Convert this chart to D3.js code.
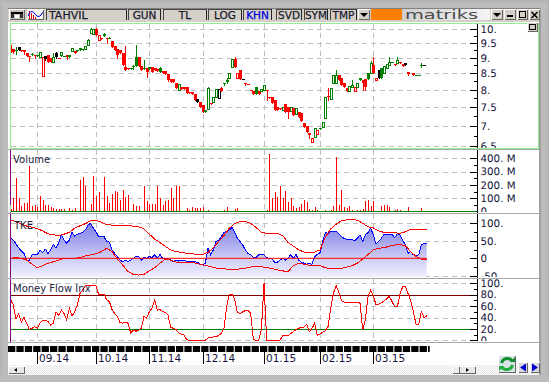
<!DOCTYPE html>
<html><head><meta charset="utf-8">
<script src="https://cdn.jsdelivr.net/npm/d3@7"></script>
<style>html,body{margin:0;padding:0;background:#fff;overflow:hidden}svg{display:block}text{font-family:"DejaVu Sans",sans-serif}</style>
</head><body><svg id="c" width="549" height="382"></svg>
<script>
const opens=[9.29,9.29,9.27,9.38,9.27,9.27,9.15,9.07,9.13,9.10,9.10,9.04,8.43,9.06,9.08,9.01,8.87,9.17,9.00,9.10,9.07,9.08,9.10,9.23,9.23,9.25,9.32,9.31,9.31,9.42,9.85,9.83,10.0,9.63,9.67,9.83,9.67,9.70,9.57,9.40,9.29,9.27,9.15,8.71,8.66,8.66,8.72,9.04,9.04,8.72,8.66,8.66,8.69,8.71,8.66,8.64,8.66,8.58,8.58,8.48,8.32,8.32,8.19,7.99,8.07,8.07,8.07,7.92,7.94,7.87,7.73,7.66,7.56,7.43,7.46,7.61,7.66,7.80,7.77,8.04,8.19,8.29,8.35,8.69,8.96,8.35,8.61,8.32,8.19,8.18,8.00,7.95,8.07,7.95,7.95,7.99,7.99,7.80,7.78,7.71,7.50,7.47,7.43,7.59,7.52,7.41,7.47,7.31,7.38,7.35,7.07,6.99,6.83,6.59,6.73,6.79,6.94,6.98,7.20,7.83,7.73,8.19,8.19,8.45,8.35,8.19,8.04,7.95,8.07,7.97,8.07,8.35,8.29,8.31,8.50,8.50,8.77,8.29,8.61,8.66,8.50,8.68,8.76,8.86,8.79,8.82,8.87,8.79,8.82,8.55,null,8.50,8.45,8.45,8.77,8.77,null];
const closes=[9.27,9.20,9.23,9.27,9.24,9.18,9.07,9.06,9.09,9.06,9.06,9.19,9.04,8.95,8.85,8.86,9.04,9.04,8.98,9.21,9.06,9.04,9.04,9.32,9.17,9.24,9.25,9.27,9.40,9.60,10.0,10.0,9.80,9.80,9.66,9.76,9.66,9.69,9.38,9.27,9.10,9.15,8.76,8.61,8.63,8.65,8.70,8.74,8.72,8.60,8.65,8.55,8.65,8.55,8.60,8.58,8.55,8.50,8.48,8.29,8.24,8.22,8.06,8.17,8.03,8.01,7.90,7.91,7.87,7.69,7.66,7.52,7.36,7.38,8.04,7.60,7.78,8.02,8.02,7.97,8.18,8.24,8.50,8.96,8.70,8.50,8.32,8.31,8.18,8.17,7.99,7.87,7.89,7.87,8.02,8.13,7.98,7.75,7.61,7.43,7.43,7.44,7.52,7.38,7.38,7.52,7.29,7.47,7.24,7.14,6.96,6.85,6.76,6.69,6.94,6.90,6.93,7.09,7.80,7.80,8.04,8.45,8.45,8.29,8.14,8.09,7.97,8.11,8.14,8.07,8.21,8.29,8.21,8.07,8.31,8.82,8.50,8.35,8.35,8.35,8.74,8.79,8.87,8.85,8.76,8.93,8.84,8.74,8.76,8.49,null,8.45,8.44,8.44,8.72,8.76,null];
const highs=[9.44,9.30,9.36,9.38,9.27,9.27,9.15,9.07,9.15,9.10,9.10,9.19,9.04,9.06,9.08,9.01,9.17,9.20,9.00,9.21,9.07,9.08,9.10,9.32,9.23,9.25,9.32,9.31,9.40,9.64,10.03,10.02,10.05,9.80,9.67,9.87,9.67,9.72,9.57,9.40,9.29,9.27,9.15,9.40,8.66,8.66,8.76,9.42,9.04,8.72,8.94,8.66,8.69,8.71,8.66,8.64,8.71,8.58,8.58,8.48,8.32,8.32,8.19,8.17,8.07,8.07,8.07,7.92,7.94,7.87,7.73,7.66,7.56,7.43,8.08,7.61,7.78,8.02,8.02,8.07,8.21,8.35,8.50,8.96,9.03,8.50,8.61,8.32,8.21,8.18,8.00,7.95,8.07,7.95,8.02,8.13,7.99,7.80,7.78,7.71,7.50,7.47,7.52,7.59,7.52,7.52,7.47,7.47,7.38,7.35,7.07,6.99,6.83,6.69,6.94,6.90,6.94,7.09,7.80,8.04,8.04,8.45,8.61,8.45,8.35,8.19,8.04,8.11,8.29,8.07,8.21,8.35,8.29,8.31,8.50,8.90,9.04,8.35,8.61,8.66,8.74,8.79,9.04,8.86,8.79,9.04,8.87,8.79,8.82,8.55,null,8.50,8.45,8.45,8.82,8.77,null];
const lows=[9.20,9.17,9.13,9.25,9.22,9.12,9.05,8.90,9.08,8.98,9.05,9.04,8.43,8.93,8.85,8.86,8.87,9.00,8.98,9.05,9.06,8.97,9.04,9.23,9.17,9.24,9.25,9.27,9.31,9.42,9.85,9.83,9.80,9.63,9.66,9.76,9.50,9.68,9.38,9.27,8.98,9.15,8.76,8.61,8.63,8.65,8.64,8.72,8.72,8.60,8.65,8.40,8.65,8.55,8.60,8.58,8.55,8.50,8.48,8.27,8.24,8.22,8.06,7.99,8.03,8.01,7.90,7.91,7.87,7.69,7.66,7.52,7.36,7.38,7.46,7.60,7.66,7.80,7.77,7.95,8.14,8.19,8.35,8.69,8.70,8.35,8.32,8.31,8.14,8.17,7.99,7.87,7.89,7.87,7.95,7.99,7.71,7.75,7.61,7.43,7.43,7.44,7.43,7.38,7.20,7.41,7.29,7.31,7.24,7.14,6.96,6.85,6.69,6.59,6.73,6.79,6.93,6.98,7.20,7.71,7.73,8.19,8.19,8.29,8.14,8.09,7.97,7.95,8.07,7.97,8.07,8.29,7.99,7.99,8.31,8.50,8.50,8.29,8.35,8.35,8.50,8.68,8.76,8.85,8.76,8.82,8.84,8.74,8.76,8.45,null,8.45,8.44,8.44,8.69,8.76,null];
const directions=[-1,-1,1,0,-1,-1,-1,-1,1,-1,1,1,-1,0,-1,-1,1,0,-1,1,1,-1,1,1,-1,1,1,1,1,1,1,1,-1,-1,-1,1,-1,1,-1,-1,-1,-1,-1,-1,-1,1,1,1,-1,-1,1,-1,1,-1,-1,-1,1,-1,-1,-1,-1,-1,-1,1,-1,-1,-1,-1,-1,-1,0,-1,-1,1,1,-1,1,1,0,-1,1,1,1,1,-1,-1,-1,0,-1,-1,-1,-1,1,-1,1,1,-1,-1,-1,-1,-1,-1,1,-1,-1,1,-1,1,-1,-1,-1,-1,-1,-1,1,-1,1,1,1,-1,1,1,1,-1,-1,-1,-1,1,1,-1,1,1,-1,-1,1,1,-1,-1,0,1,1,1,1,1,-1,1,-1,-1,0,-1,0,-1,1,1,1,0,0];
const volumes=[20,100,255,100,45,62,62,345,42,50,32,117,87,50,50,32,25,17,17,17,20,5,25,10,30,3,237,262,192,5,57,267,120,150,3,260,117,62,132,155,150,87,162,112,125,5,57,42,42,3,195,80,57,57,57,192,105,50,80,87,180,100,192,192,3,7,25,10,32,25,25,25,32,3,10,0,0,0,7,0,12,35,0,0,17,25,0,0,0,0,0,0,0,0,0,0,12,432,100,150,112,195,100,155,70,105,45,30,37,57,87,75,17,12,35,10,3,0,10,0,12,42,412,50,162,32,30,45,12,0,15,12,17,80,87,45,80,3,3,42,50,50,35,3,10,20,10,0,0,35,0,0,0,0,25,0,0];
const tke=[57,52,41,30,21,14,-5,-5,10,12,10,24,17,26,14,24,40,29,43,67,52,43,52,74,64,69,71,74,81,95,100,86,76,62,62,62,48,46,24,14,5,-5,-10,-5,-10,-5,0,5,5,-5,2,0,5,2,10,0,11,0,0,-2,-5,-10,-5,-8,-7,-7,-8,-10,-10,-10,-11,-17,-19,-14,29,10,24,48,52,62,74,78,81,88,74,57,48,38,24,14,10,2,2,10,11,10,2,0,-2,-11,-11,-5,0,-5,0,11,0,11,-5,-11,-14,-17,-14,-17,5,11,16,48,74,71,76,78,78,71,62,57,54,54,54,50,57,67,48,67,74,86,67,40,48,57,69,69,69,69,59,70,67,52,38,14,19,10,8,10,38,43,43];
// Envelope bands were read at every second bar
const bandStep=2;
const tkeUpper=[110,104,98,92,89,85,78,70,67,65,69,74,86,93,99,108,109,103,96,95,95,94,93,92,90,84,69,55,45,34,24,19,17,14,13,11,11,17,30,48,65,86,99,105,106,100,88,75,71,71,71,65,45,35,24,18,17,18,24,61,84,97,107,110,111,109,100,90,87,78,74,74,73,71,76,83,83,83,81];
const tkeLower=[0,2,0,-5,-17,-27,-21,-14,-10,-5,0,0,0,2,7,10,13,19,29,19,-2,-19,-38,-46,-48,-46,-36,-27,-14,-2,-5,-11,-11,-11,-12,-15,-19,-22,-26,-29,-30,-32,-33,-30,-28,-25,-24,-24,-27,-29,-33,-36,-38,-21,-14,-17,-20,-21,-21,-27,-30,-30,-29,-25,-21,-14,-2,11,24,29,30,35,38,39,36,19,5,-2,-2];
const mfi=[71,62,37,46,32,40,30,19,21,24,21,30,35,35,33,27,30,50,44,53,47,36,56,42,50,62,82,88,96,96,96,96,96,80,80,81,71,68,54,47,42,31,30,32,30,13,18,16,18,21,42,39,50,56,71,53,54,50,49,44,23,21,19,13,11,9,1,0,0,0,0,0,0,0,4,5,6,6,9,12,21,59,81,81,71,49,47,50,52,53,47,1,0,0,18,100,0,0,0,0,0,0,8,8,8,12,15,19,21,23,23,28,15,21,30,9,11,14,17,24,56,82,96,85,70,67,67,67,67,67,67,65,18,36,77,88,78,62,63,66,69,73,77,68,59,59,82,94,94,82,70,50,28,28,50,40,43];
const monthBars=[10,32,52,72,95,116,136];
const monthLabels=["09.14","10.14","11.14","12.14","01.15","02.15","03.15"];
const priceTicks=[10,9.5,9,8.5,8,7.5,7,6.5];
const priceLabels=["10.","9.5","9.","8.5","8.","7.5","7.","6.5"];
const priceMinor=[9.75,9.25,8.75,8.25,7.75,7.25,6.75];
const volTicks=[400,300,200,100,0];
const volLabels=["400. M","300. M","200. M","100. M","0"];
const volMinor=[350,250,150,50];
const tkeTicks=[100,50,0,-50];
const tkeLabels=["100.","50.","0","-50"];
const tkeMinor=[75,25,-25];
const mfiTicks=[100,80,60,40,20,0];
const mfiLabels=["100.","80.","60.","40.","20.","0."];
const mfiMinor=[90,70,50,30,10];
const toolbarLabels=["TAHVIL","GUN","TL","LOG","KHN","SVD","SYM","TMP"];
const panelTitles=["Volume","TKE","Money Flow Inx"];

const svg=d3.select("#c");
const defs=svg.append("defs");
const g0=defs.append("linearGradient").attr("id","tg").attr("gradientUnits","userSpaceOnUse").attr("x1",0).attr("x2",0).attr("y1",223).attr("y2",278);
g0.append("stop").attr("offset",0).attr("stop-color","#7c7ce6");
g0.append("stop").attr("offset",0.6).attr("stop-color","#c8c8f6");
g0.append("stop").attr("offset",1).attr("stop-color","#f2f2fe");
const g1=defs.append("linearGradient").attr("id","lg");
g1.append("stop").attr("offset",0).attr("stop-color","#cfcfcf");
g1.append("stop").attr("offset",1).attr("stop-color","#f4f4f4");
const pat=defs.append("pattern").attr("id","dith").attr("width",2).attr("height",2).attr("patternUnits","userSpaceOnUse");
pat.append("rect").attr("width",2).attr("height",2).attr("fill","#ffffff");
pat.append("rect").attr("width",1).attr("height",1).attr("fill","#e4e4e4");
pat.append("rect").attr("x",1).attr("y",1).attr("width",1).attr("height",1).attr("fill","#e4e4e4");

const rect=(p,x,y,w,h,f,s)=>p.append("rect").attr("x",x).attr("y",y).attr("width",w).attr("height",h).attr("fill",f).attr("stroke",s||"none").attr("shape-rendering","crispEdges");
// Window frame
rect(svg,0,0,549,382,"#b4b4b4");
rect(svg,2,2,545,378,"#bcbcbc");
rect(svg,8,8,532,367,"#ffffff");
rect(svg,8,8,531,14,"#d4d0c8");

const panels=[
 {id:"p",top:24,bottom:148},
 {id:"v",top:150,bottom:212},
 {id:"t",top:214,bottom:277},
 {id:"m",top:279,bottom:341}];
panels.forEach(p=>{defs.append("clipPath").attr("id","cl"+p.id).append("rect").attr("x",10).attr("y",p.top).attr("width",529).attr("height",p.bottom-p.top);});

const x=d3.scaleLinear().domain([0,156]).range([10.67,426.7]);
const px=i=>Math.round(x(i));
const yP=d3.scaleLog().domain([10,6.5]).range([29.3,146]);
const yV=d3.scaleLinear().domain([0,400]).range([211.5,158.3]);
const yT=d3.scaleLinear().domain([0,100]).range([258.3,223.3]);
const yM=d3.scaleLinear().domain([0,100]).range([340.3,283.3]);

function panel(id){return svg.append("g").attr("clip-path","url(#cl"+id+")");}
const axisX=477, gridEnd=469;
function grid(g,y,vals,p){
 g.selectAll(null).data(vals).join("line").attr("x1",11).attr("x2",gridEnd).attr("y1",d=>Math.round(y(d))+.5).attr("y2",d=>Math.round(y(d))+.5)
  .attr("stroke","#c0c0c0").attr("stroke-dasharray","5 4");
 g.selectAll(null).data(monthBars).join("line").attr("x1",d=>px(d)+.5).attr("x2",d=>px(d)+.5).attr("y1",p.top).attr("y2",p.bottom)
  .attr("stroke","#c0c0c0").attr("stroke-dasharray","5 4");
}
function axis(g,y,ticks,labels,minor){
 const a=g.append("g").attr("transform",`translate(${axisX+.5},0)`).attr("shape-rendering","crispEdges")
  .call(d3.axisRight(y).tickValues(ticks).tickSizeInner(-8).tickSizeOuter(0).tickPadding(3).tickFormat((d,i)=>labels[i]));
 a.select(".domain").remove();
 a.selectAll("text").attr("font-size",10.3).attr("fill","#14143c").attr("font-family","DejaVu Sans").attr("text-rendering","geometricPrecision");
 a.selectAll("line").attr("stroke","#000");
 const b=g.append("g").attr("transform",`translate(${axisX+.5},0)`).attr("shape-rendering","crispEdges")
  .call(d3.axisRight(y).tickValues(minor).tickSizeInner(-4).tickSizeOuter(0).tickFormat(""));
 b.select(".domain").remove();
 b.selectAll("line").attr("stroke","#000");
}
const title=(g,t,xx,yy)=>g.append("text").attr("x",xx).attr("y",yy).attr("font-size",10).attr("fill","#23233f").text(t);
const red="#ff0000",green="#008000",blue="#0000ff";
const colr=d=>d>0?green:d<0?red:"#000000";

// Price
const gp=panel("p"); const pp=panels[0];
grid(gp,yP,priceTicks,pp);
const idx=d3.range(opens.length).filter(i=>opens[i]!==null);
gp.selectAll(null).data(idx).join("line").attr("shape-rendering","crispEdges")
 .attr("x1",i=>px(i)+.5).attr("x2",i=>px(i)+.5).attr("y1",i=>yP(highs[i])).attr("y2",i=>yP(lows[i])+1).attr("stroke",i=>colr(directions[i]));
gp.selectAll(null).data(idx).join("rect").attr("shape-rendering","crispEdges")
 .each(function(i){
   const hollow=closes[i]>opens[i];
   const t=Math.round(yP(Math.max(opens[i],closes[i]))), b=Math.round(yP(Math.min(opens[i],closes[i])));
   const s=d3.select(this);
   if(hollow){s.attr("x",px(i)-.5).attr("y",t+.5).attr("width",2).attr("height",Math.max(b-t,1)).attr("fill","#fff").attr("stroke",colr(directions[i]));}
   else{s.attr("x",px(i)-1).attr("y",t).attr("width",3).attr("height",Math.max(b-t,1)).attr("fill",colr(directions[i]));}
 });
axis(gp,yP,priceTicks,priceLabels,priceMinor);

// Volume
const gv=panel("v"); const pv=panels[1];
grid(gv,yV,volTicks.slice(0,4),pv);
gv.selectAll(null).data(volumes).join("rect").attr("shape-rendering","crispEdges")
 .attr("x",(d,i)=>px(i)).attr("width",1).attr("y",d=>yV(d)).attr("height",d=>Math.max(0,yV(0)-yV(d))).attr("fill",red);
gv.append("line").attr("x1",11).attr("x2",axisX).attr("y1",211.5).attr("y2",211.5).attr("stroke",green);
axis(gv,yV,volTicks,volLabels,volMinor);
title(gv,panelTitles[0],13,163);

// TKE
const gt=panel("t"); const pt=panels[2];
grid(gt,yT,[100,50,-50],pt);
gt.append("path").datum(tke).attr("fill","url(#tg)")
 .attr("d",d3.area().x((d,i)=>x(i)).y0(pt.bottom).y1(d=>yT(d)));
const crisp=(g,d,c)=>g.append("path").attr("d",d).attr("fill","none").attr("stroke",c).attr("stroke-width",1).attr("shape-rendering","crispEdges");
crisp(gt,d3.line().x((d,i)=>x(i)).y(d=>yT(d))(tke),blue);
const bandLine=d3.line().x((d,i)=>x(i*bandStep)).y(d=>yT(d));
crisp(gt,bandLine(tkeUpper),red);
crisp(gt,bandLine(tkeLower),red);
gt.append("line").attr("x1",x(0)).attr("x2",x(156)).attr("y1",yT(0)).attr("y2",yT(0)).attr("stroke",red).attr("stroke-width",1);
axis(gt,yT,tkeTicks,tkeLabels,tkeMinor);
title(gt,panelTitles[1],14,229);

// MFI
const gm=panel("m"); const pm=panels[3];
grid(gm,yM,[100,60,40,0],pm);
gm.append("line").attr("x1",11).attr("x2",gridEnd+8).attr("y1",Math.round(yM(80))+.5).attr("y2",Math.round(yM(80))+.5).attr("stroke","#800000");
gm.append("line").attr("x1",11).attr("x2",gridEnd+8).attr("y1",Math.round(yM(20))+.5).attr("y2",Math.round(yM(20))+.5).attr("stroke",green);
crisp(gm,d3.line().x((d,i)=>x(i)).y(d=>yM(d))(mfi),red);
axis(gm,yM,mfiTicks,mfiLabels,mfiMinor);
title(gm,panelTitles[2],13,292);

// Axis spine
svg.append("line").attr("x1",axisX+.5).attr("x2",axisX+.5).attr("y1",24).attr("y2",341).attr("stroke","#000");
// Purple left marker
svg.append("line").attr("x1",10.5).attr("x2",10.5).attr("y1",150).attr("y2",343).attr("stroke","#800080");
// Separators
[149,213,278,342].forEach(y=>rect(svg,8,y-0.5,531,1.5,"#a8a8a8"));
rect(svg,539,8,2,367,"#a0a0a0");
// Green price border
svg.append("rect").attr("x",10.5).attr("y",23.5).attr("width",528).attr("height",124.5).attr("fill","none").attr("stroke","#90ee90").attr("shape-rendering","crispEdges");
svg.append("line").attr("x1",10.5).attr("x2",10.5).attr("y1",205).attr("y2",212).attr("stroke","#90ee90");

// Time axis
const gx=svg.append("g");
gx.append("line").attr("x1",8).attr("x2",x(156)+3).attr("y1",349).attr("y2",349).attr("stroke","#000").attr("stroke-width",6).attr("stroke-dasharray","7.3 1.1");
gx.selectAll(null).data(monthBars).join("line").attr("x1",d=>px(d)+.5).attr("x2",d=>px(d)+.5).attr("y1",346).attr("y2",364).attr("stroke","#000").attr("shape-rendering","crispEdges");
gx.selectAll(null).data(monthBars).join("text").attr("x",d=>px(d)+2).attr("y",362).attr("font-size",10.5).attr("fill","#14143c").text((d,i)=>monthLabels[i]);

// Lower strip
rect(svg,8,365,531,10,"url(#dith)");
rect(svg,0,375,549,7,"#bcbcbc");
const btn=(bx,by,w,h,f)=>{const g=svg.append("g");rect(g,bx,by,w,h,f||"#d4d0c8");
 g.append("path").attr("d",`M${bx+.5},${by+h-.5}V${by+.5}H${bx+w-.5}`).attr("fill","none").attr("stroke","#fff").attr("shape-rendering","crispEdges");
 g.append("path").attr("d",`M${bx+.5},${by+h-.5}H${bx+w-.5}V${by+.5}`).attr("fill","none").attr("stroke","#666").attr("shape-rendering","crispEdges");return g;};
const sl=btn(8,366,17,8,"#e8e8e8");sl.append("path").attr("d","M14,370l3,-2v4z").attr("fill","#000");
const sr=btn(452,366,24,8,"#e8e8e8");sr.append("path").attr("d","M466,368l3,2l-3,2z").attr("fill","#000");
btn(452,366,8,8,"#eee");

// Toolbar
rect(svg,8,8,532,1,"#808080");
const boxes=[[46,81],[128,33],[163,44],[208,34],[243,29],[276,26],[304,24],[330,27]];
const boxG=svg.append("g");
boxes.forEach((b,i)=>{
 const g=boxG.append("g");
 rect(g,b[0],9,b[1],11,"#d4d0c8");
 g.append("path").attr("d",`M${b[0]+.5},20V9.5H${b[0]+b[1]-.5}`).attr("fill","none").attr("stroke","#444").attr("shape-rendering","crispEdges");
 g.append("line").attr("x1",b[0]+b[1]-.5).attr("x2",b[0]+b[1]-.5).attr("y1",9).attr("y2",20).attr("stroke","#222").attr("shape-rendering","crispEdges");
 const t=g.append("text").attr("y",19).attr("font-size",i==0?11:10.5).attr("fill",i==4?"#0000e0":"#1a1a2e").attr("stroke",i==4?"#0000e0":"#1a1a2e").attr("stroke-width",.25)
  .text(toolbarLabels[i]);
 if(i==0)t.attr("x",49);else t.attr("x",b[0]+b[1]/2).attr("text-anchor","middle");
});
// Icons
const ic1=btn(9,9,16,11,"#c8c4bc");
rect(ic1,11,12,12,2,"#000");rect(ic1,11,14,3,4,"#333");rect(ic1,20,14,3,4,"#333");rect(ic1,15,15,4,3,"#fff");
const ic2=btn(27,9,17,11,"#f4f4f4");
[29,31,33,35].forEach((v,i)=>rect(ic2,v,11+i*2,1,8-i*2,"#e00000"));
ic2.append("path").attr("d","M28,16q3,-8 7,-2t8,-2").attr("fill","none").attr("stroke","#0000e0");
// Right side controls
const dropdown=(bx)=>{const g=btn(bx,9,12,11);g.append("path").attr("d",`M${bx+2},13h8l-4,4z`).attr("fill","#000");};
dropdown(358);
rect(svg,371,9,31,11,"#ff8000");
rect(svg,402,9,88,11,"url(#lg)");
svg.append("text").attr("x",405).attr("y",19).attr("font-size",13).attr("textLength",73).attr("lengthAdjust","spacingAndGlyphs").attr("fill","#4a4a4a").text("matriks");
dropdown(491);
const mn=btn(504,9,12,11);rect(mn,507,15,6,2,"#000");
const mx=btn(517,9,11,11);mx.append("rect").attr("x",519.5).attr("y",11.5).attr("width",6).attr("height",6).attr("fill","none").attr("stroke","#000").attr("stroke-width",1.2).attr("shape-rendering","crispEdges");
const cl=btn(529,9,11,11);cl.append("path").attr("d","M531.5,12l6,6m0,-6l-6,6").attr("stroke","#000").attr("stroke-width",1.5);
const sq=btn(527,22,11,10);sq.append("rect").attr("x",529.5).attr("y",24.5).attr("width",6).attr("height",5).attr("fill","none").attr("stroke","#000").attr("shape-rendering","crispEdges");
// Refresh / nav
const rf=btn(498,355,18,18,"#d8e4e8");
rf.append("path").attr("d","M501.5,363a6,6 0 0 1 11,-1.5").attr("fill","none").attr("stroke","#109030").attr("stroke-width",3);
rf.append("path").attr("d","M512.5,365a6,6 0 0 1 -11,1.5").attr("fill","none").attr("stroke","#20b040").attr("stroke-width",3);
rf.append("path").attr("d","M510,362l5,0l0,-5z").attr("fill","#109030");
rf.append("path").attr("d","M504,366l-5,0l0,5z").attr("fill","#20b040");
const nl=btn(518,362,10,11,"#d8d8d8");nl.append("path").attr("d","M520,367.5l6,-4v8z").attr("fill","#0000d0");
const nr=btn(530,362,10,11,"#d8d8d8");nr.append("path").attr("d","M538,367.5l-6,-4v8z").attr("fill","#0000d0");
</script></body></html>
